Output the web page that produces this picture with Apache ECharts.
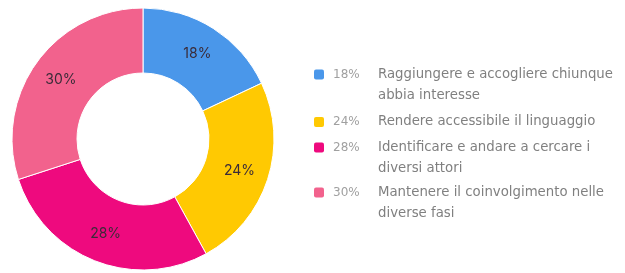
<!DOCTYPE html>
<html><head><meta charset="utf-8">
<script src="https://cdn.jsdelivr.net/npm/echarts@6/dist/echarts.min.js"></script>
<style>html,body{margin:0;padding:0;background:#fff}#c{width:625px;height:273px}</style>
</head><body><div id="c"></div>
<script>
const categories = [
  "Raggiungere e accogliere chiunque\nabbia interesse",
  "Rendere accessibile il linguaggio",
  "Identificare e andare a cercare i\ndiversi attori",
  "Mantenere il coinvolgimento nelle\ndiverse fasi"
];
const values = [18, 24, 28, 30];
const colors = ["#4A97EA", "#FFC902", "#EE0A7E", "#F2628D"];

const chart = echarts.init(document.getElementById('c'), null, {renderer: 'canvas'});
const FONT = 'DejaVu Sans';
const rich = {
  p: {width: 45, color: '#a0a0a0', fontSize: 12, fontFamily: FONT, lineHeight: 21},
  s: {width: 9, lineHeight: 21},
  e: {width: 64, lineHeight: 21},
  t: {color: '#808080', fontSize: 13.3, fontFamily: FONT, lineHeight: 21}
};
colors.forEach((c, i) => {
  rich['i' + i] = {width: 10, height: 10, backgroundColor: c, borderRadius: 2, lineHeight: 21};
});
const legendTops = [63, 110, 136, 181];
const legends = categories.map((name, i) => ({
  orient: 'vertical',
  left: 304,
  top: legendTops[i],
  icon: 'none',
  itemWidth: 0,
  selectedMode: false,
  data: [name],
  formatter: function (n) {
    const lines = n.split('\n');
    let s = '{i' + i + '|}{s|}{p|' + values[i] + '%}{t|' + lines[0] + '}';
    for (let k = 1; k < lines.length; k++) s += '\n{e|}{t|' + lines[k] + '}';
    return s;
  },
  textStyle: {rich: rich}
}));
chart.setOption({
  animation: false,
  color: colors,
  legend: legends,
  series: [{
    type: 'pie',
    center: [143, 139],
    radius: [66, 131],
    startAngle: 90,
    clockwise: true,
    itemStyle: {borderColor: '#fff', borderWidth: 1},
    label: {
      position: 'inside',
      formatter: '{c}%',
      color: '#3a2b38',
      fontSize: 14,
      fontFamily: 'Inter'
    },
    labelLine: {show: false},
    data: categories.map((n, i) => ({name: n, value: values[i]}))
  }]
});
</script></body></html>
